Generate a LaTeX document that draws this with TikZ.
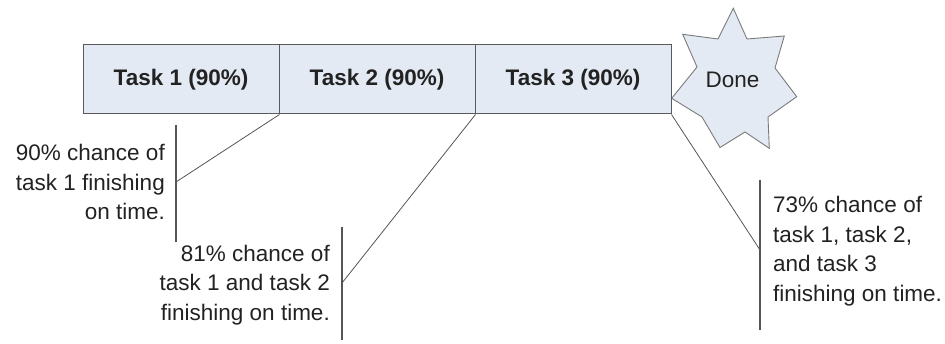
\documentclass[tikz,border=0pt]{standalone}
\usepackage{fontspec}
\setmainfont{Liberation Sans}
\definecolor{boxfill}{HTML}{E4EAF4}
\definecolor{boxline}{HTML}{5A5A5A}
\definecolor{txt}{HTML}{222222}
\definecolor{leader}{HTML}{555555}
\begin{document}
\begin{tikzpicture}[x=1pt,y=-1pt,
  taskbox/.style={draw=boxline,line width=1pt,fill=boxfill,minimum width=196pt,minimum height=69pt,inner sep=0pt,
    font=\fontsize{22.5}{27}\selectfont\bfseries,text=txt},
  note/.style={inner sep=0pt,font=\fontsize{22.5}{29.5}\selectfont,text=txt},
  leadline/.style={draw=leader,line width=0.8pt},
  vbar/.style={draw=leader,line width=1.1pt}]
\useasboundingbox (0,0) rectangle (945,344);
% star
\draw[draw=boxline!80,line width=0.9pt,fill=boxfill]
  (733.3,8.3) -- (747,39) -- (784.3,36) -- (775,68) -- (796.7,96.7) -- (768,117)
  -- (769.3,148.3) -- (745,132) -- (720,147.5) -- (702,117) -- (671.7,98.3)
  -- (697,67) -- (682.7,34.3) -- (718,39) -- cycle;
\node[note] (done) at (732.5,80) {Done};
% boxes
\node[taskbox] (t1) at (181,79.5) {Task 1 (90\%)};
\node[taskbox] (t2) at (377,79.5) {Task 2 (90\%)};
\node[taskbox] (t3) at (573,79.5) {Task 3 (90\%)};
% notes
\node[note,align=right,anchor=east] (n1) at (165,182) {90\% chance of\\task 1 finishing\\on time.};
\node[note,align=right,anchor=east] (n2) at (330,285) {81\% chance of\\task 1 and task 2\\finishing on time.};
\node[note,align=left,anchor=west] (n3) at (773,251) {73\% chance of\\task 1, task 2,\\and task 3\\finishing on time.};
% bars
\coordinate (b1t) at (176,125); \coordinate (b1b) at (176,242); \coordinate (c1) at (176,182);
\coordinate (b2t) at (342,227); \coordinate (b2b) at (342,340); \coordinate (c2) at (342,283);
\coordinate (b3t) at (760,180); \coordinate (b3b) at (760,330); \coordinate (c3) at (760,250);
\draw[vbar] (b1t) -- (b1b);
\draw[vbar] (b2t) -- (b2b);
\draw[vbar] (b3t) -- (b3b);
\draw[leadline] (t1.south east) -- (c1);
\draw[leadline] (t2.south east) -- (c2);
\draw[leadline] (t3.south east) -- (c3);
\end{tikzpicture}
\end{document}
